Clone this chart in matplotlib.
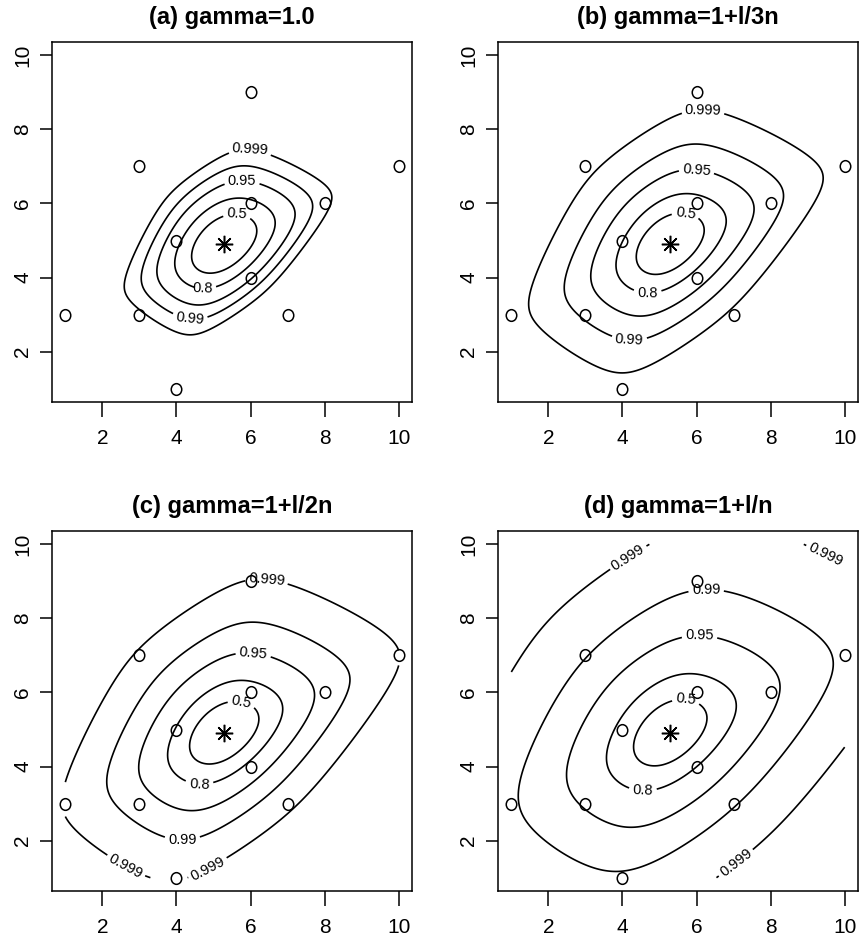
import numpy as np
import matplotlib
matplotlib.use("Agg")
import matplotlib.pyplot as plt
from matplotlib.path import Path
from matplotlib.markers import MarkerStyle
from matplotlib.transforms import Affine2D

plt.rcParams['font.family'] = ['Liberation Sans', 'DejaVu Sans']

# observations
x_obs = np.array([1, 3, 3, 4, 4, 6, 6, 6, 7, 8, 10], dtype=float)
y_obs = np.array([3, 3, 7, 1, 5, 4, 6, 9, 3, 6, 7], dtype=float)

conf_levels = [0.5, 0.8, 0.95, 0.99, 0.999]
level_text = ["0.5", "0.8", "0.95", "0.99", "0.999"]

titles = ["(a) gamma=1.0", "(b) gamma=1+l/3n", "(c) gamma=1+l/2n", "(d) gamma=1+l/n"]
gamma_div = [np.inf, 3.0, 2.0, 1.0]   # gamma = 1 + l / (k n)

# where the contour labels sit: (level index, x, y)
label_spots = [
    [(4, 5.97, 7.28), (2, 5.77, 6.45), (0, 5.63, 5.57), (1, 4.70, 3.76), (3, 4.38, 3.02)],
    [(4, 6.17, 8.36), (2, 5.99, 6.79), (0, 5.68, 5.57), (1, 4.68, 3.64), (3, 4.19, 2.37)],
    [(4, 6.42, 8.90), (2, 6.06, 6.90), (0, 5.72, 5.56), (1, 4.62, 3.57), (3, 4.16, 2.06),
     (4, 2.65, 1.34), (4, 4.80, 1.34)],
    [(4, 4.19, 9.59), (4, 9.46, 9.66), (3, 6.26, 8.67), (2, 6.08, 7.41), (0, 5.70, 5.66),
     (1, 4.55, 3.35), (4, 7.07, 1.39)],
]

n_obs = len(x_obs)
x_bar, y_bar = x_obs.mean(), y_obs.mean()
chi2_q = -2 * np.log(1 - np.array(conf_levels))  # chi-square(2) quantiles


def hull_path(px, py):
    pts = sorted(set(zip(px, py)))

    def cross(o, a, b):
        return (a[0] - o[0]) * (b[1] - o[1]) - (a[1] - o[1]) * (b[0] - o[0])

    lower, upper = [], []
    for p in pts:
        while len(lower) >= 2 and cross(lower[-2], lower[-1], p) <= 0:
            lower.pop()
        lower.append(p)
    for p in reversed(pts):
        while len(upper) >= 2 and cross(upper[-2], upper[-1], p) <= 0:
            upper.pop()
        upper.append(p)
    h = lower[:-1] + upper[:-1]
    return Path(h + [h[0]], closed=True)


hull = hull_path(x_obs, y_obs)


def el_inside(tx, ty):
    # -2 log empirical likelihood ratio for the mean, Newton on the dual with Owen's log*
    zx = x_obs[None, :] - tx[:, None]
    zy = y_obs[None, :] - ty[:, None]
    eps = 1.0 / n_obs

    def llog(t):
        return np.where(t >= eps, np.log(np.maximum(t, eps)),
                        np.log(eps) - 1.5 + 2 * t / eps - 0.5 * (t / eps) ** 2)

    def obj(lam):
        return llog(1 + lam[:, :1] * zx + lam[:, 1:] * zy).sum(1)

    lam = np.zeros((tx.size, 2))
    f0 = obj(lam)
    for _ in range(60):
        t = 1 + lam[:, :1] * zx + lam[:, 1:] * zy
        tt = np.maximum(t, eps)
        d1 = np.where(t >= eps, 1 / tt, 2 / eps - t / eps ** 2)
        d2 = np.where(t >= eps, -1 / tt ** 2, -1 / eps ** 2)
        gx, gy = (d1 * zx).sum(1), (d1 * zy).sum(1)
        hxx = (d2 * zx * zx).sum(1)
        hxy = (d2 * zx * zy).sum(1)
        hyy = (d2 * zy * zy).sum(1)
        det = hxx * hyy - hxy ** 2
        sx = -(hyy * gx - hxy * gy) / det
        sy = -(hxx * gy - hxy * gx) / det
        step = np.column_stack([sx, sy])
        alpha = np.ones(tx.size)
        new = lam + step
        f1 = obj(new)
        for _ in range(25):
            bad = f1 < f0 - 1e-12
            if not bad.any():
                break
            alpha[bad] *= 0.5
            new = lam + alpha[:, None] * step
            f1 = obj(new)
        lam, f0 = new, f1
        if np.nanmax(np.abs(alpha[:, None] * step)) < 1e-10:
            break
    return 2 * f0


def el_stat(tx, ty):
    tx, ty = np.ravel(tx), np.ravel(ty)
    out = np.full(tx.size, 1e6)
    inside = hull.contains_points(np.column_stack([tx, ty]))
    if inside.any():
        with np.errstate(all='ignore'):
            out[inside] = el_inside(tx[inside], ty[inside])
    out = np.nan_to_num(out, nan=1e6, posinf=1e6)
    return out


grid = np.linspace(1, 10, 181)
GX, GY = np.meshgrid(grid, grid)

fig = plt.figure(figsize=(8.59, 9.43), dpi=100)
W, H = 859.0, 943.0
boxes = [(52, 42), (498, 42), (52, 531), (498, 531)]
side = 360.0

circ = Path.unit_circle()
o_marker = MarkerStyle(circ.transformed(Affine2D().scale(0.9, 1.0)))

for i in range(4):
    left, top = boxes[i]
    ax = fig.add_axes([left / W, 1 - (top + side) / H, side / W, side / H])
    k = gamma_div[i]
    for j, c in enumerate(chi2_q):
        g = 1 + c / (k * n_obs)
        # the level-c set of the extended EL is the original one scaled by gamma about the mean
        L = el_stat(x_bar + (GX - x_bar) / g, y_bar + (GY - y_bar) / g).reshape(GX.shape)
        cs = ax.contour(GX, GY, L, levels=[c], colors='black', linewidths=1.2)
        spots = [(sx, sy) for (lv, sx, sy) in label_spots[i] if lv == j]
        if spots:
            ax.clabel(cs, fmt={c: level_text[j]}, fontsize=10.5, inline=True,
                      inline_spacing=5, manual=spots)

    ax.plot(x_obs, y_obs, linestyle='none', marker=o_marker, markersize=8.4,
            markerfacecolor='none', markeredgecolor='black', markeredgewidth=1.1)
    ax.plot([x_bar], [y_bar], linestyle='none', marker=(8, 2, 0), markersize=12.5,
            color='black', markeredgewidth=1.1)

    ax.set_xlim(0.64, 10.36)
    ax.set_ylim(0.64, 10.36)
    ax.set_xticks([2, 4, 6, 8, 10])
    ax.set_yticks([2, 4, 6, 8, 10])
    ax.tick_params(axis='both', direction='out', width=1.1, labelsize=15)
    ax.tick_params(axis='x', length=10.5, pad=9)
    ax.tick_params(axis='y', length=8.6, pad=5.5)
    for lab in ax.get_yticklabels():
        lab.set_rotation(90)
        lab.set_va('center')
    for sp in ax.spines.values():
        sp.set_linewidth(1.1)
    ax.set_title(titles[i], fontsize=17, fontweight='bold', pad=13)

fig.savefig('out.png', dpi=100)
